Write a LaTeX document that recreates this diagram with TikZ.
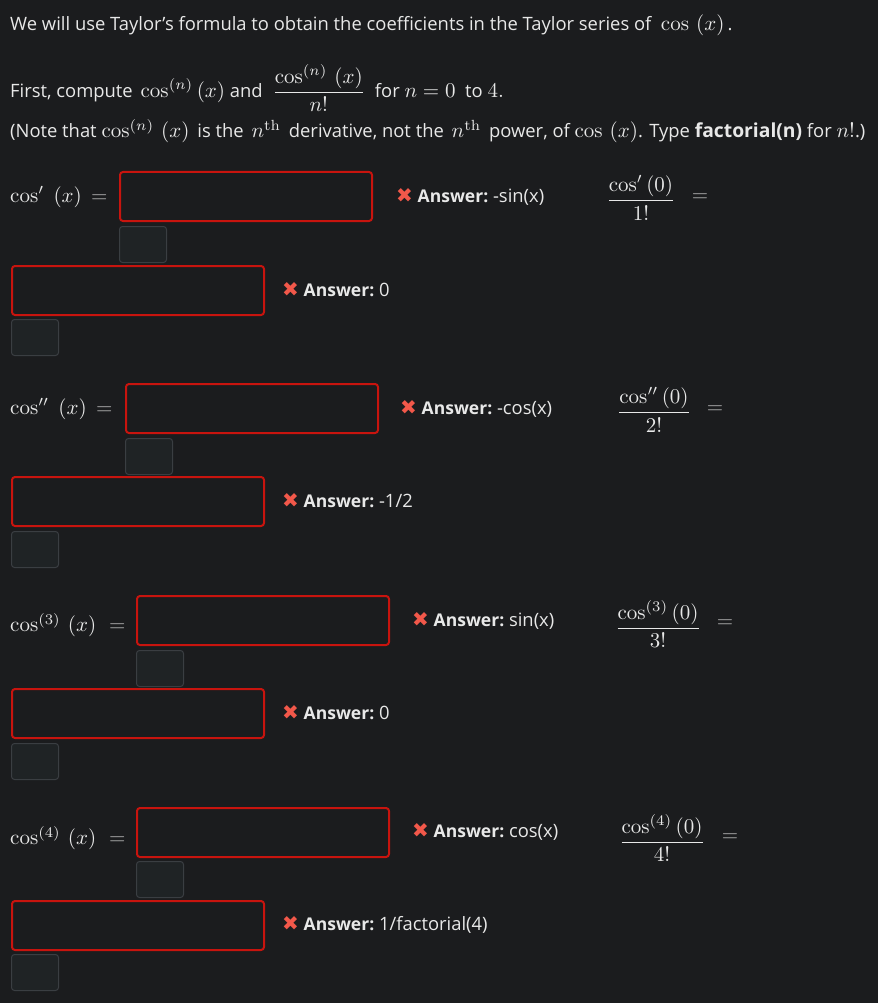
\documentclass[tikz,border=0pt]{standalone}
\usepackage{amsmath, amssymb}
\usepackage{graphicx}
\usepackage[no-math]{fontspec}
\setmainfont{Open Sans}
\newfontfamily\symfont{DejaVu Sans}
\usepackage{tikz}
\usetikzlibrary{positioning}

\definecolor{bgcol}{HTML}{1B1C1E}
\definecolor{txtcol}{HTML}{E8E8E8}
\definecolor{redcol}{HTML}{C8140E}
\definecolor{graybox}{HTML}{1F2325}
\definecolor{grayline}{HTML}{3A3E42}
\definecolor{xred}{HTML}{F2584A}
\definecolor{eqgray}{HTML}{B4B4B4}

% math drawn at 10pt and blown up to the page size
\newcommand{\mth}[1]{\scalebox{2.1}{\fontsize{10}{12}\selectfont$#1$}}
\newcommand{\xmark}{{\symfont\fontsize{20}{22}\selectfont\color{xred}✖}}
\newcommand{\answord}{{\fontsize{17.5}{21}\selectfont\bfseries Answer:}}

\tikzset{
    txt/.style={text=txtcol, font=\fontsize{18.4}{22}\selectfont, inner sep=0pt, anchor=west},
    inbox/.style={draw=redcol, line width=2pt, rounded corners=3pt, anchor=north west,
                  minimum width=252pt, minimum height=49pt, inner sep=0pt},
    unitbox/.style={draw=grayline, fill=graybox, line width=1pt, rounded corners=3pt, anchor=north west,
                    minimum width=47pt, minimum height=36pt, inner sep=0pt},
    eqsign/.style={text=eqgray, inner sep=0pt}
}

\begin{document}
\begin{tikzpicture}[x=1pt, y=-1pt]
    \fill[bgcol] (0,0) rectangle (878,1003);
    \useasboundingbox (0,0) rectangle (878,1003);

    % intro text
    \node[txt] (intro) at (10,25) {We will use Taylor's formula to obtain the coefficients in the Taylor series of \ \mth{\cos\,\left(x\right)}\,.};
    \node[txt] (task) at (10,88) {First, compute \,\mth{\cos^{(n)}\left(x\right)} and \ \mth{\dfrac{\cos^{(n)}\,\left(x\right)}{n!}} \ for \mth{n=0} \ to \mth{4.}};
    \node[txt] (note) at (10,131) {(Note that \mth{\cos^{(n)}\,\left(x\right)} \,is the \,\mth{n^{\mathrm{th}}} \,derivative, not the \,\mth{n^{\mathrm{th}}} \,power, of \mth{\cos\,\left(x\right)}. Type {\fontsize{19.3}{22}\selectfont\bfseries factorial(n)} for \mth{n!}.)};

    % first derivative
    \node[txt] (lbl1) at (10,197) {\mth{\cos'\;\left(x\right)\;{\color{eqgray}=}}};
    \node[inbox] (in1) at (119,171) {};
    \node[unitbox] (un1) at (119,226) {};
    \node[txt] (ans1) at (396,197) {\xmark\ \answord\ -sin(x)};
    \node[text=txtcol] (frac1) at (641,198) {\mth{\dfrac{\cos'\left(0\right)}{1!}}};
    \node[eqsign] (eq1) at (700,198) {\mth{=}};
    \node[inbox] (in1b) at (11,265) {};
    \node[unitbox] (un1b) at (11,319) {};
    \node[txt] (ans1b) at (282,290) {\xmark\ \answord\ 0};

    % second derivative
    \node[txt] (lbl2) at (10,409) {\mth{\cos''\;\left(x\right)\;{\color{eqgray}=}}};
    \node[inbox] (in2) at (125,383) {};
    \node[unitbox] (un2) at (125,438) {};
    \node[txt] (ans2) at (400,409) {\xmark\ \answord\ -cos(x)};
    \node[text=txtcol] (frac2) at (654,410) {\mth{\dfrac{\cos''\left(0\right)}{2!}}};
    \node[eqsign] (eq2) at (715,410) {\mth{=}};
    \node[inbox] (in2b) at (11,476) {};
    \node[unitbox] (un2b) at (11,531) {};
    \node[txt] (ans2b) at (282,501) {\xmark\ \answord\ -1/2};

    % third derivative
    \node[txt] (lbl3) at (10,625) {\mth{\cos^{(3)}\,\left(x\right)\;\,{\color{eqgray}=}}};
    \node[inbox] (in3) at (136,595) {};
    \node[unitbox] (un3) at (136,650) {};
    \node[txt] (ans3) at (412,621) {\xmark\ \answord\ sin(x)};
    \node[text=txtcol] (frac3) at (658,624) {\mth{\dfrac{\cos^{(3)}\left(0\right)}{3!}}};
    \node[eqsign] (eq3) at (725,624) {\mth{=}};
    \node[inbox] (in3b) at (11,688) {};
    \node[unitbox] (un3b) at (11,743) {};
    \node[txt] (ans3b) at (282,713) {\xmark\ \answord\ 0};

    % fourth derivative
    \node[txt] (lbl4) at (10,838) {\mth{\cos^{(4)}\,\left(x\right)\;\,{\color{eqgray}=}}};
    \node[inbox] (in4) at (136,807) {};
    \node[unitbox] (un4) at (136,861) {};
    \node[txt] (ans4) at (412,832) {\xmark\ \answord\ cos(x)};
    \node[text=txtcol] (frac4) at (662,838) {\mth{\dfrac{\cos^{(4)}\left(0\right)}{4!}}};
    \node[eqsign] (eq4) at (730,838) {\mth{=}};
    \node[inbox] (in4b) at (11,900) {};
    \node[unitbox] (un4b) at (11,954) {};
    \node[txt] (ans4b) at (282,925) {\xmark\ \answord\ 1/factorial(4)};
\end{tikzpicture}
\end{document}
